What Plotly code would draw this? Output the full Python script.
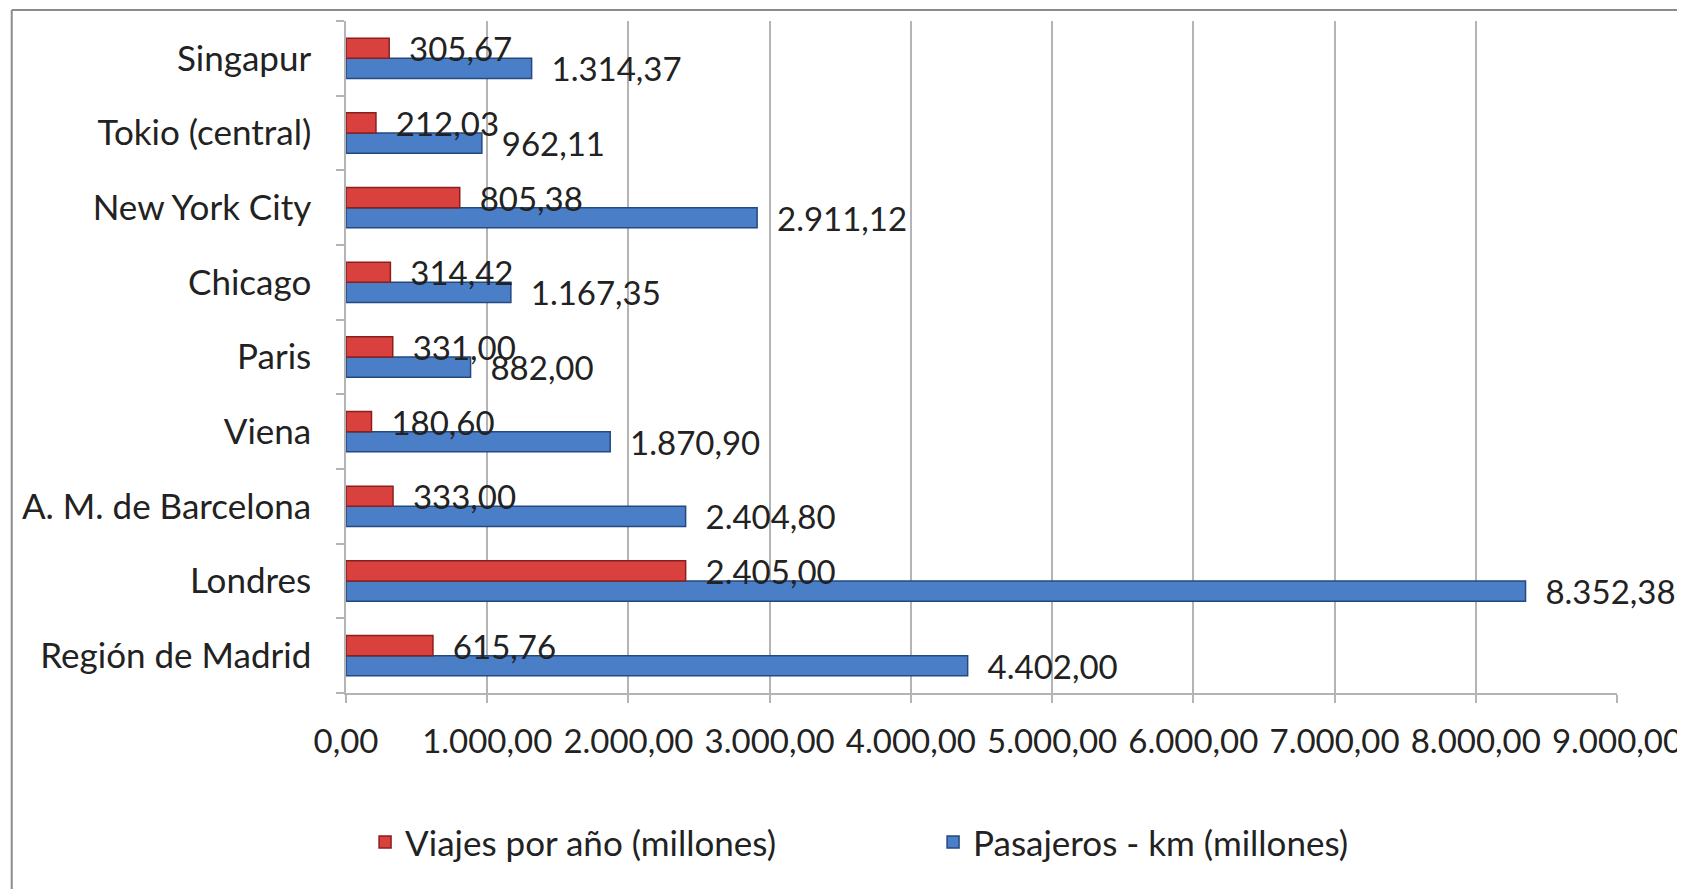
import plotly.graph_objects as go

ciudades = ['Región de Madrid', 'Londres', 'A. M. de Barcelona', 'Viena', 'Paris',
            'Chicago', 'New York City', 'Tokio (central)', 'Singapur']
viajes = [615.76, 2405.00, 333.00, 180.60, 331.00, 314.42, 805.38, 212.03, 305.67]
pasajeros_km = [4402.00, 8352.38, 2404.80, 1870.90, 882.00, 1167.35, 2911.12, 962.11, 1314.37]
ticks_x = [0, 1000, 2000, 3000, 4000, 5000, 6000, 7000, 8000, 9000]

fuente = dict(family='Lato', size=35, color='#222222')
fuente_num = dict(family='Lato', size=33, color='#222222')

fig = go.Figure()
# blue first so that it sits below the red bar in each group
fig.add_trace(go.Bar(
    y=ciudades, x=pasajeros_km, orientation='h', name='Pasajeros - km (millones)',
    marker=dict(color='#4a7fc8', line=dict(color='#23497f', width=1.5)),
    texttemplate='\u00a0\u00a0%{x:,.2f}', textposition='outside', textfont=fuente_num,
    constraintext='none', cliponaxis=False, legendrank=2
))
fig.add_trace(go.Bar(
    y=ciudades, x=viajes, orientation='h', name='Viajes por año (millones)',
    marker=dict(color='#d9413f', line=dict(color='#8a1f1d', width=1.5)),
    texttemplate='\u00a0\u00a0%{x:,.2f}', textposition='outside', textfont=fuente_num,
    constraintext='none', cliponaxis=False, legendrank=1
))

fig.update_layout(
    width=1685, height=889,
    margin=dict(l=338, r=76, t=13, b=204),
    paper_bgcolor='white', plot_bgcolor='white',
    separators=',.',
    font=fuente,
    barmode='group', bargap=0.46, bargroupgap=0,
    showlegend=True,
    legend=dict(orientation='h', x=0.015, y=-0.222, yanchor='middle', xanchor='left',
                entrywidth=523, font=fuente),
    xaxis=dict(
        range=[0, 9000], tickvals=ticks_x, tickformat=',.2f',
        showgrid=True, gridcolor='#b4b4b4', gridwidth=1.5,
        showline=True, linecolor='#b4b4b4', linewidth=1.5,
        ticks='outside', ticklen=8, tickcolor='#b4b4b4', tickwidth=1.5,
        ticklabelstandoff=11,
        zeroline=False, automargin=False, tickfont=fuente_num
    ),
    yaxis=dict(
        showline=True, linecolor='#b4b4b4', linewidth=1.5,
        ticks='outside', ticklen=8, tickcolor='#b4b4b4', tickwidth=1.5,
        tickson='boundaries', showgrid=False, automargin=False,
        ticklabelstandoff=26, tickfont=fuente
    ),
    shapes=[
        dict(type='line', xref='paper', yref='paper', x0=-0.263, x1=1.1, y0=1.0164, y1=1.0164,
             line=dict(color='#8c8c8c', width=2)),
        dict(type='line', xref='paper', yref='paper', x0=-0.263, x1=-0.263, y0=1.0164, y1=-0.35,
             line=dict(color='#8c8c8c', width=2)),
    ],
)

fig.write_html('out.html')
